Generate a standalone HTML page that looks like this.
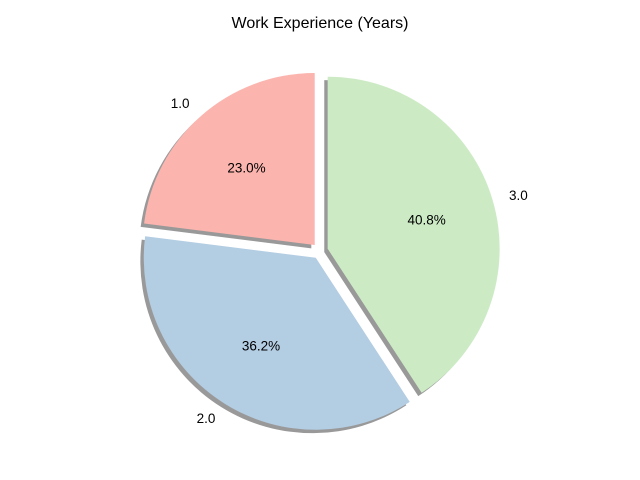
<!DOCTYPE html>
<html><head><meta charset="utf-8"><style>
body{margin:0;background:#fff}
svg{display:block;font-family:"Liberation Sans","DejaVu Sans",sans-serif}
</style></head><body>
<svg id="chart" width="640" height="480" viewBox="0 0 640 480">
<rect width="640" height="480" fill="#fff"/>
<text x="320" y="28" text-anchor="middle" font-size="16" fill="#000">Work Experience (Years)</text>
<g id="shadows"></g><g id="slices"></g><g id="labels"></g>
</svg>
<script>
const categories = ["1.0", "2.0", "3.0"];
const values = [23.0, 36.2, 40.8];
const colors = ["#fbb4ae", "#b3cde3", "#ccebc5"];
const cx = 320, cy = 251, R = 172, EXP = 8, START = 90;
const NS = "http://www.w3.org/2000/svg";
const total = values.reduce((a, b) => a + b, 0);
function pt(x, y, r, deg) { const a = deg * Math.PI / 180; return [x + r * Math.cos(a), y - r * Math.sin(a)]; }
function arcPath(x, y, a0, a1) {
  const p0 = pt(x, y, R, a0), p1 = pt(x, y, R, a1);
  const large = (a1 - a0) > 180 ? 1 : 0;
  return `M${x},${y} L${p0[0]},${p0[1]} A${R},${R} 0 ${large} 0 ${p1[0]},${p1[1]} Z`;
}
let a = START;
const sh = document.getElementById('shadows'), sl = document.getElementById('slices'), lb = document.getElementById('labels');
values.forEach((v, i) => {
  const span = v / total * 360, a0 = a, a1 = a + span, mid = (a0 + a1) / 2;
  a = a1;
  const [ox, oy] = pt(cx, cy, EXP, mid);
  const s = document.createElementNS(NS, 'path');
  s.setAttribute('d', arcPath(ox - 3.4, oy + 3.4, a0, a1));
  s.setAttribute('fill', '#000'); s.setAttribute('opacity', '0.4');
  
  
  sh.appendChild(s);
  const p = document.createElementNS(NS, 'path');
  p.setAttribute('d', arcPath(ox, oy, a0, a1));
  p.setAttribute('fill', colors[i]);
  
  
  sl.appendChild(p);
  const [lx, ly] = pt(ox, oy, R * 1.1, mid);
  const t = document.createElementNS(NS, 'text');
  t.setAttribute('x', lx); t.setAttribute('y', ly + 5);
  t.setAttribute('font-size', '13.5');
  t.setAttribute('text-anchor', Math.cos(mid * Math.PI / 180) < 0 ? 'end' : 'start');
  t.textContent = categories[i];
  
  
  lb.appendChild(t);
  const [px, py] = pt(ox, oy, R * 0.6, mid);
  const q = document.createElementNS(NS, 'text');
  q.setAttribute('x', px); q.setAttribute('y', py + 5);
  q.setAttribute('font-size', '13.5'); q.setAttribute('text-anchor', 'middle');
  q.textContent = v.toFixed(1) + '%';
  
  
  lb.appendChild(q);
});
</script>
</body></html>
